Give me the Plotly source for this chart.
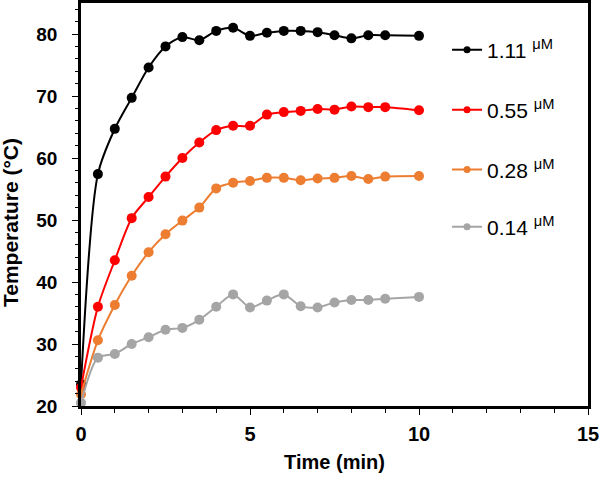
import plotly.graph_objects as go

time_min = [0, 0.5, 1, 1.5, 2, 2.5, 3, 3.5, 4, 4.5, 5, 5.5, 6, 6.5, 7, 7.5, 8, 8.5, 9, 10]

temp_111 = [23.5, 57.4, 64.7, 69.7, 74.6, 78.0, 79.5, 79.0, 80.5, 81.0, 79.7, 80.2, 80.5, 80.5, 80.3, 79.8, 79.3, 79.8, 79.8, 79.7]
temp_055 = [23.0, 36.0, 43.5, 50.3, 53.7, 57.0, 60.0, 62.5, 64.5, 65.2, 65.2, 67.0, 67.4, 67.6, 67.9, 67.8, 68.3, 68.2, 68.2, 67.7]
temp_028 = [21.9, 30.6, 36.3, 41.0, 44.8, 47.7, 49.9, 52.0, 55.1, 56.0, 56.3, 56.8, 56.8, 56.4, 56.7, 56.8, 57.1, 56.6, 57.0, 57.1]
temp_014 = [20.5, 27.8, 28.4, 30.0, 31.1, 32.3, 32.6, 33.9, 36.0, 38.0, 35.9, 37.0, 38.0, 36.1, 35.9, 36.7, 37.1, 37.1, 37.3, 37.6]

series_labels = ["1.11", "0.55", "0.28", "0.14"]
series_values = [temp_111, temp_055, temp_028, temp_014]
series_colors = ["#000000", "#FF0000", "#ED7D31", "#A5A5A5"]
legend_ids = ["legend", "legend2", "legend3", "legend4"]
legend_y = [0.883, 0.734, 0.586, 0.444]

font_family = "Liberation Sans, Arial, sans-serif"

fig = go.Figure()
for lab, vals, col, lid in zip(series_labels, series_values, series_colors, legend_ids):
    fig.add_trace(go.Scatter(
        x=time_min, y=vals, mode="lines+markers",
        name=f"{lab} <sup>μM</sup>",
        line=dict(color=col, width=2, shape="spline", smoothing=0.8),
        marker=dict(color=col, size=10),
        cliponaxis=False,
        showlegend=False,
        legendgroup=lab,
    ))
    # legend entry (smaller marker, like the reference key)
    fig.add_trace(go.Scatter(
        x=[None], y=[None], mode="lines+markers",
        name=f"{lab} <sup>μM</sup>",
        line=dict(color=col, width=2),
        marker=dict(color=col, size=7),
        legend=lid,
        legendgroup=lab,
        showlegend=True,
    ))

legend_common = dict(
    x=0.722, xanchor="left", yanchor="middle",
    bgcolor="rgba(0,0,0,0)", borderwidth=0,
    font=dict(family=font_family, size=21, color="black"),
)
layout_legends = {}
for lid, ly in zip(legend_ids, legend_y):
    layout_legends[lid] = dict(legend_common, y=ly)

fig.update_layout(
    width=600, height=477,
    margin=dict(l=81, r=12, t=3, b=71, autoexpand=False),
    paper_bgcolor="white", plot_bgcolor="white",
    showlegend=True,
    font=dict(family=font_family, color="black"),
    **layout_legends,
)

fig.add_annotation(
    text="<b>Temperature (°C)</b>", textangle=-90,
    xref="paper", yref="paper", x=-0.140, y=0.454,
    xanchor="center", yanchor="middle", showarrow=False,
    font=dict(family=font_family, size=21, color="black"),
)

fig.update_xaxes(
    range=[0, 15], dtick=5, tick0=0, automargin=False,
    showgrid=False, zeroline=False,
    showline=True, linecolor="black", linewidth=2.5, mirror=True,
    ticks="outside", ticklen=6, tickwidth=1, tickcolor="black",
    minor=dict(dtick=1, ticks="outside", ticklen=4, tickwidth=1, tickcolor="black"),
    tickfont=dict(family=font_family, size=20, color="black", weight="bold"),
    ticklabelstandoff=2,
    title=dict(text="<b>Time (min)</b>", font=dict(family=font_family, size=20, color="black"), standoff=12),
)
fig.update_yaxes(
    range=[20, 85], dtick=10, tick0=20, automargin=False,
    showgrid=False, zeroline=False,
    showline=True, linecolor="black", linewidth=2.5, mirror=True,
    ticks="outside", ticklen=6, tickwidth=1, tickcolor="black",
    minor=dict(dtick=2, ticks="outside", ticklen=3, tickwidth=1, tickcolor="black"),
    tickfont=dict(family=font_family, size=19, color="black", weight="bold"),
    ticklabelstandoff=11,
)

fig.write_html(
    "out.html",
    config={"displayModeBar": False},
    post_script="document.body.style.margin='0';document.body.style.overflow='hidden';",
)
